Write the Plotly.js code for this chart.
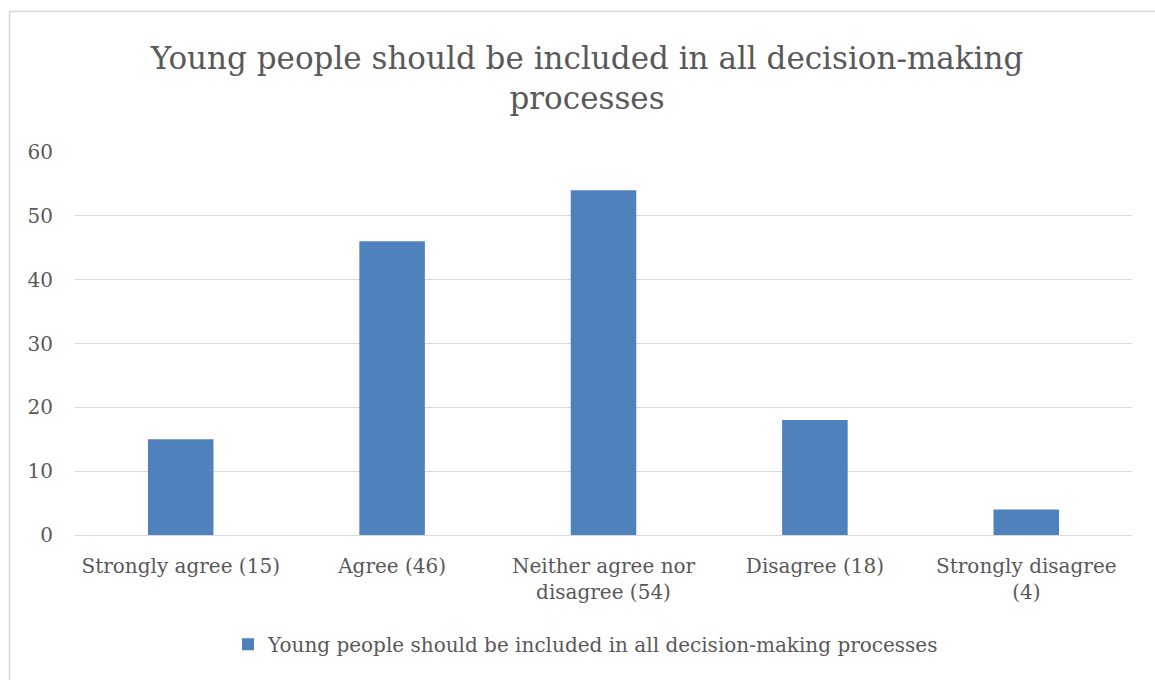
<!DOCTYPE html>
<html>
<head>
<meta charset="utf-8">
<script src="https://cdn.plot.ly/plotly-3.0.1.min.js"></script>
<style>html,body{margin:0;padding:0;background:#fff;}#chart{width:1155px;height:680px;}</style>
</head>
<body>
<div id="chart"></div>
<script>
const categories = ["Strongly agree (15)", "Agree (46)", "Neither agree nor<br>disagree (54)", "Disagree (18)", "Strongly disagree<br>(4)"];
const values = [15, 46, 54, 18, 4];
const seriesName = "Young people should be included in all decision-making processes";
const titleText = "Young people should be included in all decision-making<br>processes";
const yTicks = [0, 10, 20, 30, 40, 50, 60];

const FONT = "DejaVu Serif, Liberation Serif, serif";
const GREY = "#595959";

const trace = {
  type: "bar",
  x: categories,
  y: values,
  name: seriesName,
  marker: {color: "#4f81bd"},
  hoverinfo: "x+y"
};

const L = 75, R = 23, T = 152, B = 145;
const pw = 1155 - L - R, ph = 680 - T - B;

const layout = {
  width: 1155, height: 680,
  margin: {l: L, r: R, t: T, b: B, pad: 0},
  paper_bgcolor: "#fff", plot_bgcolor: "#fff",
  font: {family: FONT, color: GREY, size: 20},
  title: {
    text: titleText,
    font: {family: FONT, size: 31, color: GREY},
    x: 587 / 1155, xanchor: "center",
    y: 1 - 69 / 680, yanchor: "middle"
  },
  bargap: 0.69,
  showlegend: true,
  legend: {
    orientation: "h",
    x: (586 - L) / pw, xanchor: "center",
    y: -0.285, yanchor: "middle",
    font: {family: FONT, size: 20, color: GREY},
    itemwidth: 30
  },
  xaxis: {
    type: "category",
    showgrid: false,
    showline: true, linecolor: "#d9d9d9", linewidth: 1,
    ticks: "", ticklabelstandoff: 13,
    tickfont: {family: FONT, size: 20, color: GREY},
    fixedrange: true
  },
  yaxis: {
    range: [0, 60],
    tickvals: yTicks,
    ticktext: yTicks.map(String),
    showgrid: true, gridcolor: "#d9d9d9", gridwidth: 1,
    zeroline: false, showline: false,
    ticks: "", ticklabelstandoff: 21,
    tickfont: {family: FONT, size: 20, color: GREY},
    fixedrange: true
  },
  shapes: [{
    type: "rect", xref: "paper", yref: "paper",
    x0: (9.5 - L) / pw, x1: (1170 - L) / pw,
    y0: -(B + 20) / ph, y1: 1 + (T - 11.5) / ph,
    line: {color: "#d9d9d9", width: 1.5},
    fillcolor: "rgba(0,0,0,0)", layer: "below"
  }]
};

Plotly.newPlot("chart", [trace], layout, {displayModeBar: false, staticPlot: true});
</script>
</body>
</html>
